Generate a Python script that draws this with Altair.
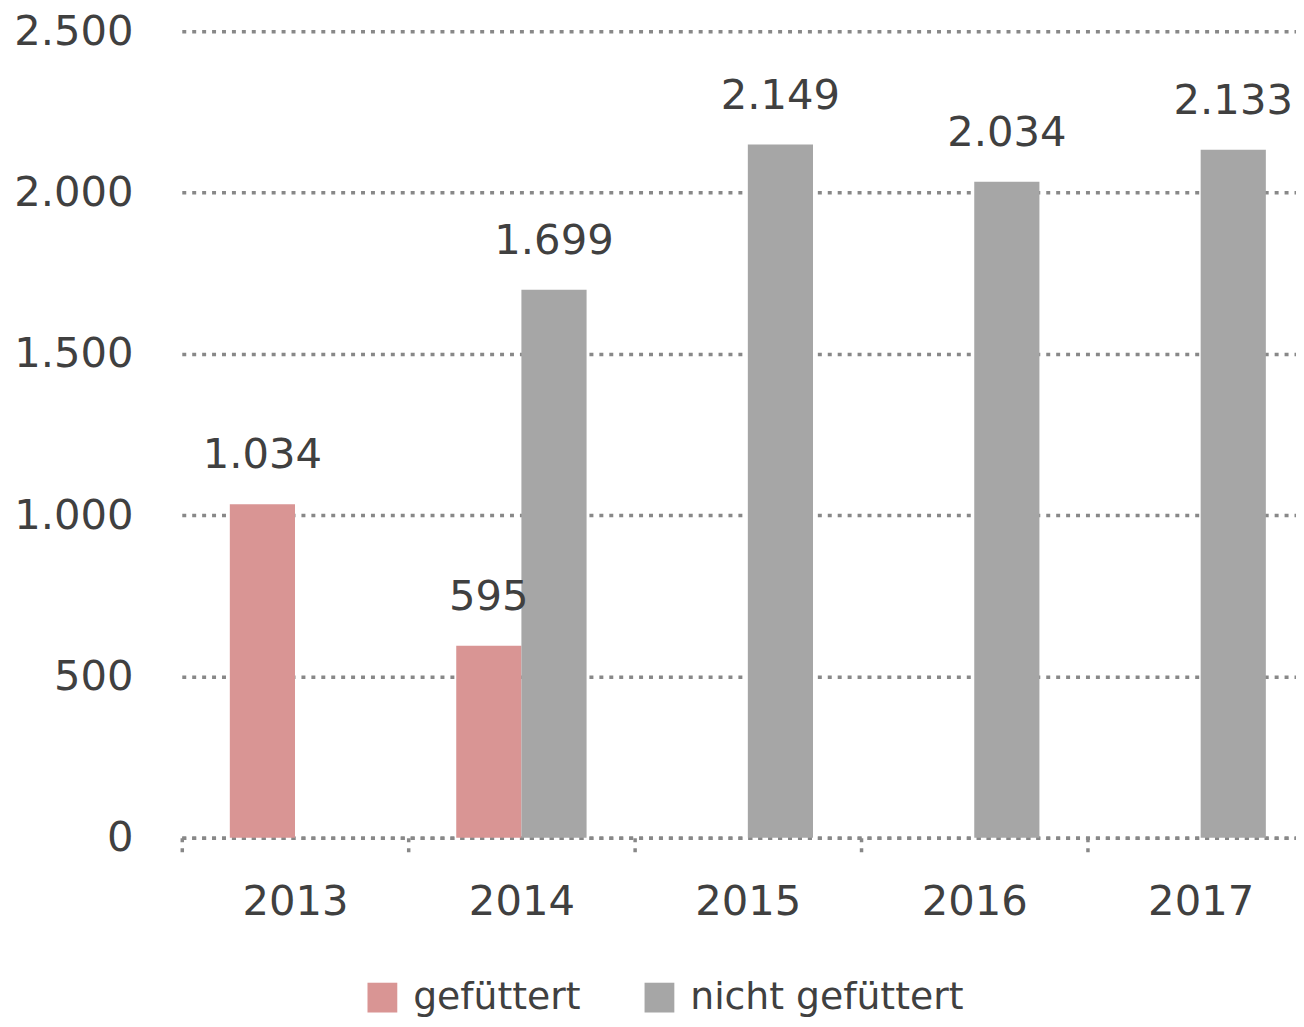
import altair as alt
import pandas as pd

years = ["2013", "2014", "2015", "2016", "2017"]
gefuettert = [1034, 595, None, None, None]
nicht_gefuettert = [None, 1699, 2149, 2034, 2133]
series_names = ["gefüttert", "nicht gefüttert"]
colors = ["#D99594", "#A6A6A6"]

rows = []
for i, y in enumerate(years):
    for name, vals in zip(series_names, [gefuettert, nicht_gefuettert]):
        v = vals[i]
        if v is not None:
            rows.append({"Jahr": y, "Serie": name, "Wert": v,
                         "Label": f"{v:,}".replace(",", ".")})
df = pd.DataFrame(rows)

FONT = "DejaVu Sans"
TXT = "#404040"
GRID = "#888888"
DASH = [4, 6]

base = alt.Chart(df).encode(
    x=alt.X("Jahr:N", sort=years, title=None,
            scale=alt.Scale(paddingInner=0, paddingOuter=0, range=[1, 1141]),
            axis=alt.Axis(labelAngle=0, labelFontSize=42, labelColor=TXT, labelFont=FONT,
                          labelPadding=30, tickBand="extent", tickSize=14,
                          tickColor=GRID, tickWidth=3.5, tickDash=DASH,
                          domainColor=GRID, domainWidth=3.5, domainDash=DASH)),
    xOffset=alt.XOffset("Serie:N", scale=alt.Scale(domain=series_names,
                                                   paddingInner=0, paddingOuter=0.737)),
    y=alt.Y("Wert:Q", title=None,
            scale=alt.Scale(domain=[0, 2500], nice=False),
            axis=alt.Axis(values=[0, 500, 1000, 1500, 2000, 2500],
                          labelExpr="replace(format(datum.value, ','), ',', '.')",
                          labelFontSize=42, labelColor=TXT, labelFont=FONT,
                          labelPadding=48, ticks=False, domain=False,
                          grid=True, gridColor=GRID, gridWidth=3.5, gridDash=DASH)),
)

bars = base.mark_bar(strokeWidth=0).encode(
    color=alt.Color("Serie:N", scale=alt.Scale(domain=series_names, range=colors),
                    legend=alt.Legend(title=None, orient="none", legendX=184, legendY=954,
                                      direction="horizontal", symbolType="square",
                                      symbolSize=900, symbolStrokeWidth=0,
                                      labelFontSize=38, labelColor=TXT, labelFont=FONT,
                                      labelOffset=12, columnPadding=60, labelLimit=0))
)

labels = base.mark_text(baseline="bottom", dy=-27, fontSize=42, color=TXT, font=FONT).encode(
    text="Label:N"
)

chart = alt.layer(bars, labels).properties(
    width=1123, height=812,
    background="white",
    autosize=alt.AutoSizeParams(type="none"),
    padding={"left": 174, "top": 20, "right": 0, "bottom": 178},
).configure_view(stroke=None)

chart.save("out.html", embed_options={"renderer": "svg", "actions": False})
